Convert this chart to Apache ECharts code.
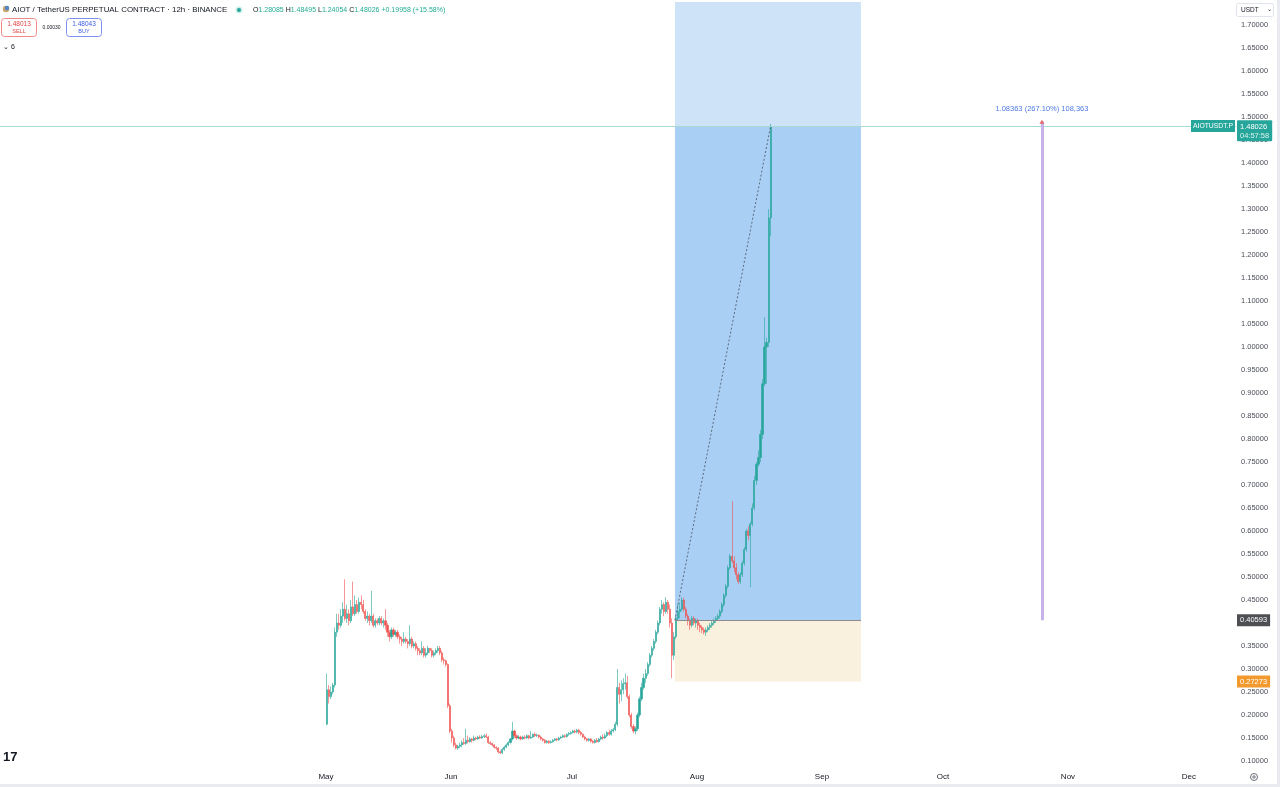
<!DOCTYPE html>
<html><head><meta charset="utf-8">
<script src="https://cdn.jsdelivr.net/npm/echarts@6/dist/echarts.min.js"></script>
<style>html,body{margin:0;padding:0;background:#fff;}#c{width:1280px;height:787px;}</style>
</head><body><div id="c"></div>
<script>
const monthNames = ['Jan','Feb','Mar','Apr','May','Jun','Jul','Aug','Sep','Oct','Nov','Dec'];
const monthTicks = ['2025-05-01','2025-06-01','2025-07-01','2025-08-01','2025-09-01','2025-10-01','2025-11-01','2025-12-01'];

const opens = [
.18,.255,.24,.25,.265,.38,.40,.395,.415,.43,
.41,.42,.405,.435,.42,.44,.425,.445,.44,.425,
.41,.415,.405,.415,.395,.405,.40,.41,.40,.405,
.395,.38,.37,.385,.375,.38,.37,.365,.36,.365,
.36,.355,.365,.35,.355,.345,.34,.335,.345,.33,
.335,.345,.34,.33,.335,.34,.345,.335,.32,.318,
.31,.22,.165,.15,.135,.128,.132,.135,.14,.138,
.145,.142,.148,.145,.15,.148,.152,.15,.153,.155,
.152,.14,.138,.135,.13,.128,.12,.118,.125,.13,
.135,.14,.148,.165,.155,.15,.152,.148,.152,.15,
.155,.15,.152,.158,.155,.156,.152,.148,.145,.14,
.143,.14,.142,.145,.148,.146,.15,.152,.155,.153,
.158,.16,.162,.165,.163,.167,.162,.158,.152,.148,
.145,.148,.143,.14,.145,.142,.148,.152,.15,.155,
.162,.158,.165,.168,.18,.26,.245,.255,.268,.27,
.24,.2,.175,.165,.17,.2,.235,.26,.28,.29,
.31,.33,.345,.36,.38,.4,.43,.44,.425,.445,
.43,.40,.33,.37,.41,.425,.43,.45,.43,.415,
.405,.395,.41,.40,.405,.395,.39,.385,.38,.385,
.39,.395,.40,.405,.41,.415,.425,.44,.46,.48,
.52,.545,.535,.52,.505,.49,.505,.53,.56,.60,
.59,.615,.65,.71,.745,.76,.81,.92,1.0,1.01,
1.28085];
const closes = [
.255,.24,.25,.265,.38,.40,.395,.415,.43,.41,
.42,.405,.435,.42,.44,.425,.445,.44,.425,.41,
.415,.405,.415,.395,.405,.40,.41,.40,.405,.395,
.38,.37,.385,.375,.38,.37,.365,.36,.365,.36,
.355,.365,.35,.355,.345,.34,.335,.345,.33,.335,
.345,.34,.33,.335,.34,.345,.335,.32,.318,.31,
.22,.165,.15,.135,.128,.132,.135,.14,.138,.145,
.142,.148,.145,.15,.148,.152,.15,.153,.155,.152,
.14,.138,.135,.13,.128,.12,.118,.125,.13,.135,
.14,.148,.165,.155,.15,.152,.148,.152,.15,.155,
.15,.152,.158,.155,.156,.152,.148,.145,.14,.143,
.14,.142,.145,.148,.146,.15,.152,.155,.153,.158,
.16,.162,.165,.163,.167,.162,.158,.152,.148,.145,
.148,.143,.14,.145,.142,.148,.152,.15,.155,.162,
.158,.165,.168,.18,.26,.245,.255,.268,.27,.24,
.2,.175,.165,.17,.2,.235,.26,.28,.29,.31,
.33,.345,.36,.38,.4,.43,.44,.425,.445,.43,
.40,.33,.37,.41,.425,.43,.45,.43,.415,.405,
.395,.41,.40,.405,.395,.39,.385,.38,.385,.39,
.395,.40,.405,.41,.415,.425,.44,.46,.48,.52,
.545,.535,.52,.505,.49,.505,.53,.56,.60,.59,
.615,.65,.71,.745,.76,.81,.92,1.0,1.01,1.28085,
1.48026];
const highs = [
.29,.265,.262,.27,.39,.42,.42,.43,.445,.495,
.44,.43,.45,.49,.46,.45,.455,.46,.45,.43,
.425,.42,.47,.42,.41,.41,.415,.415,.41,.43,
.40,.385,.39,.39,.385,.385,.375,.37,.38,.37,
.365,.395,.37,.36,.36,.35,.345,.36,.35,.345,
.35,.345,.345,.34,.345,.35,.35,.34,.325,.32,
.312,.225,.17,.155,.14,.135,.14,.145,.15,.17,
.155,.152,.15,.155,.153,.155,.156,.157,.158,.16,
.155,.143,.14,.137,.132,.13,.123,.128,.133,.138,
.143,.15,.185,.168,.158,.156,.155,.155,.156,.158,
.157,.165,.16,.162,.16,.158,.155,.15,.148,.146,
.145,.145,.148,.15,.15,.153,.155,.158,.158,.16,
.163,.165,.168,.168,.17,.17,.165,.16,.155,.15,
.15,.15,.146,.148,.15,.15,.155,.158,.16,.165,
.168,.17,.172,.185,.30,.27,.275,.28,.29,.285,
.245,.205,.18,.175,.205,.24,.27,.29,.30,.315,
.335,.35,.365,.385,.405,.435,.45,.445,.456,.45,
.44,.41,.38,.415,.44,.445,.456,.455,.435,.42,
.41,.415,.415,.41,.41,.40,.395,.39,.39,.395,
.40,.405,.41,.415,.42,.43,.445,.465,.485,.525,
.55,.665,.545,.53,.51,.51,.535,.565,.605,.61,
.62,.66,.72,.75,.775,.82,.93,1.065,1.02,1.30,
1.48495];
const lows = [
.178,.225,.235,.245,.26,.37,.385,.39,.40,.405,
.40,.395,.40,.415,.415,.42,.42,.43,.42,.405,
.40,.395,.40,.39,.39,.395,.395,.395,.39,.385,
.37,.36,.365,.37,.37,.365,.355,.35,.355,.355,
.345,.35,.345,.345,.34,.33,.33,.33,.325,.325,
.33,.335,.325,.325,.33,.335,.33,.315,.31,.305,
.215,.16,.14,.13,.125,.124,.128,.13,.135,.135,
.138,.14,.14,.143,.145,.146,.148,.148,.15,.15,
.137,.135,.132,.127,.124,.116,.115,.115,.122,.128,
.132,.138,.145,.15,.146,.147,.145,.146,.147,.148,
.147,.148,.15,.152,.152,.149,.145,.142,.138,.138,
.137,.138,.14,.143,.143,.144,.148,.15,.15,.151,
.155,.157,.16,.16,.16,.158,.155,.15,.145,.142,
.142,.14,.138,.138,.14,.14,.145,.146,.148,.152,
.155,.155,.162,.165,.175,.225,.23,.245,.255,.235,
.195,.17,.16,.158,.165,.195,.23,.255,.27,.285,
.305,.325,.34,.355,.375,.395,.42,.415,.42,.42,
.39,.28,.32,.365,.405,.41,.425,.425,.41,.395,
.385,.39,.395,.39,.385,.38,.378,.375,.372,.38,
.385,.39,.395,.40,.405,.41,.42,.435,.455,.475,
.515,.53,.51,.495,.485,.485,.50,.525,.555,.58,
.478,.61,.645,.70,.74,.75,.80,.915,.92,1.0,
1.24054];

// levels of the drawing tools
const currentPrice = 1.48026;
const entryPrice = 0.40593;
const stopPrice = 0.27273;
const measureDelta = 1.08363;
const measureTop = entryPrice + measureDelta;

// times
const firstCandleTime = Date.UTC(2025, 4, 1, 6);
const candleStep = 12 * 3600 * 1000;
const positionStart = Date.UTC(2025, 6, 26, 13);
const positionEnd = Date.UTC(2025, 8, 10, 16);
const measureTime = Date.UTC(2025, 9, 25, 13);
const axisMinTime = Date.UTC(2025, 1, 9, 4);
const axisMaxTime = Date.UTC(2025, 11, 12, 16);

const UP = '#26a69a', DOWN = '#ef5350';
const FONT = 'Liberation Sans, Arial, sans-serif';

const candleTimes = opens.map((_, i) => firstCandleTime + i * candleStep);
const lastTime = candleTimes[candleTimes.length - 1];
const candleData = opens.map((o, i) => [candleTimes[i], o, closes[i], lows[i], highs[i]]);
const monthValues = monthTicks.map(s => Date.parse(s + 'T00:00:00Z'));

const chart = echarts.init(document.getElementById('c'), null, {renderer: 'canvas'});
chart.setOption({
  animation: false,
  backgroundColor: '#ffffff',
  textStyle: {fontFamily: FONT},
  grid: {left: 0, right: 44, top: 2, bottom: 3, containLabel: false},
  xAxis: {
    type: 'value', min: axisMinTime, max: axisMaxTime,
    axisLine: {show: false}, axisTick: {show: false}, splitLine: {show: false},
    axisLabel: {
      inside: true, margin: 3, customValues: monthValues,
      color: '#131722', fontSize: 8, fontFamily: FONT,
      formatter: v => monthNames[new Date(v).getUTCMonth()]
    }
  },
  yAxis: {
    type: 'value', position: 'right', min: 0.05, max: 1.75, interval: 0.05,
    axisLine: {show: false}, axisTick: {show: false}, splitLine: {show: false},
    axisLabel: {
      margin: 5, color: '#4a4e59', fontSize: 7.5, fontFamily: FONT,
      formatter: v => (v < 0.07 || v > 1.72) ? '' : v.toFixed(5)
    }
  },
  series: [{
    type: 'candlestick',
    data: candleData,
    encode: {x: 0, y: [1, 2, 3, 4]},
    barWidth: 1.6,
    itemStyle: {color: UP, color0: DOWN, borderColor: UP, borderColor0: DOWN, borderColorDoji: UP, borderWidth: 0.6},
    markArea: {
      silent: true,
      data: [
        [{xAxis: positionStart, yAxis: currentPrice, itemStyle: {color: '#cfe3f8'}}, {xAxis: positionEnd, yAxis: 1.75}],
        [{xAxis: positionStart, yAxis: entryPrice, itemStyle: {color: '#a9cff4'}}, {xAxis: positionEnd, yAxis: currentPrice}],
        [{xAxis: positionStart, yAxis: stopPrice, itemStyle: {color: '#faf0de'}}, {xAxis: positionEnd, yAxis: entryPrice}]
      ]
    },
    markLine: {
      silent: true, symbol: ['none', 'none'],
      data: [
        {yAxis: currentPrice, lineStyle: {color: '#a6dbd2', width: 1, type: 'solid'},
         label: {show: true, position: 'end', distance: 1, offset: [0, 4.5], formatter: '{a|1.48026}\n{b|04:57:58}',
           backgroundColor: '#26a69a', padding: [2, 3, 1, 3], borderRadius: 1,
           rich: {a: {color: '#fff', fontSize: 7.5, fontFamily: FONT, lineHeight: 9},
                  b: {color: '#d8f2ee', fontSize: 7.5, fontFamily: FONT, lineHeight: 9}}}},
        [{coord: [positionStart, entryPrice], lineStyle: {color: '#8c8c8c', width: 1, type: 'solid'}, label: {show: false}},
         {coord: [positionEnd, entryPrice]}],
        [{coord: [positionStart, entryPrice], lineStyle: {color: '#5b6b7c', width: 1, type: [2, 2]}, label: {show: false}},
         {coord: [lastTime, currentPrice]}],
        [{coord: [measureTime, entryPrice], lineStyle: {color: '#c4b2e8', width: 3, type: 'solid'},
          label: {show: true, position: 'end', distance: 9, formatter: '1.08363 (267.10%) 108,363',
            color: '#4f7be0', fontSize: 7.5, fontFamily: FONT}},
         {coord: [measureTime, measureTop]}]
      ]
    },
    markPoint: {
      silent: true,
      data: [
        {coord: [axisMaxTime, currentPrice], symbol: 'rect', symbolSize: 0,
         label: {show: true, position: 'left', distance: 1, formatter: 'AIOTUSDT.P', color: '#fff',
           backgroundColor: '#26a69a', padding: [3, 2, 2, 2], fontSize: 6.8, fontFamily: FONT}},
        {coord: [axisMaxTime, entryPrice], symbol: 'rect', symbolSize: 0,
         label: {show: true, position: 'right', distance: 1, formatter: '0.40593', color: '#fff',
           backgroundColor: '#4e4f52', padding: [2, 3, 2, 3], fontSize: 7.5, fontFamily: FONT}},
        {coord: [axisMaxTime, stopPrice], symbol: 'rect', symbolSize: 0,
         label: {show: true, position: 'right', distance: 1, formatter: '0.27273', color: '#fff',
           backgroundColor: '#f29a2e', padding: [2, 3, 2, 3], fontSize: 7.5, fontFamily: FONT}},
        {coord: [measureTime, measureTop], symbol: 'triangle', symbolSize: [5, 4],
         itemStyle: {color: '#e06b6b'}, label: {show: false}}
      ]
    }
  }],
  graphic: [
    {type: 'circle', shape: {cx: 6, cy: 9, r: 3.2}, style: {fill: '#c9a36b'}},
    {type: 'circle', shape: {cx: 7, cy: 8, r: 2.2}, style: {fill: '#4f86c6'}},
    {type: 'text', style: {x: 12, y: 10, text: 'AIOT / TetherUS PERPETUAL CONTRACT · 12h · BINANCE',
      fontSize: 7.9, fontFamily: FONT, fill: '#131722', verticalAlign: 'middle'}},
    {type: 'circle', shape: {cx: 239, cy: 10, r: 3.5}, style: {fill: '#cdeee8'}},
    {type: 'circle', shape: {cx: 239, cy: 10, r: 2}, style: {fill: '#26a69a'}},
    {type: 'text', style: {x: 253, y: 10, verticalAlign: 'middle', fontSize: 7, fontFamily: FONT,
      text: '{l|O}{v|1.28085} {l|H}{v|1.48495} {l|L}{v|1.24054} {l|C}{v|1.48026} {v|+0.19958 (+15.58%)}',
      rich: {l: {fill: '#131722', fontSize: 7, fontFamily: FONT}, v: {fill: '#22ab94', fontSize: 7, fontFamily: FONT}}}},
    {type: 'rect', shape: {x: 1.5, y: 18.5, width: 35, height: 18, r: 3}, style: {fill: '#fff', stroke: '#f08a8a', lineWidth: 1}},
    {type: 'text', style: {x: 19, y: 24, text: '1.48013', align: 'center', verticalAlign: 'middle', fontSize: 6.5, fontFamily: FONT, fill: '#e04646'}},
    {type: 'text', style: {x: 19, y: 31.5, text: 'SELL', align: 'center', verticalAlign: 'middle', fontSize: 5.5, fontFamily: FONT, fill: '#e04646'}},
    {type: 'text', style: {x: 51.5, y: 28, text: '0.00030', align: 'center', verticalAlign: 'middle', fontSize: 5, fontFamily: FONT, fill: '#131722'}},
    {type: 'rect', shape: {x: 66.5, y: 18.5, width: 35, height: 18, r: 3}, style: {fill: '#fff', stroke: '#7f8ff0', lineWidth: 1}},
    {type: 'text', style: {x: 84, y: 24, text: '1.48043', align: 'center', verticalAlign: 'middle', fontSize: 6.5, fontFamily: FONT, fill: '#3d5ae0'}},
    {type: 'text', style: {x: 84, y: 31.5, text: 'BUY', align: 'center', verticalAlign: 'middle', fontSize: 5.5, fontFamily: FONT, fill: '#3d5ae0'}},
    {type: 'text', style: {x: 3, y: 47, text: '⌄ 6', verticalAlign: 'middle', fontSize: 7, fontFamily: FONT, fill: '#131722'}},
    {type: 'rect', shape: {x: 1236.5, y: 3.5, width: 37, height: 13, r: 2}, style: {fill: 'none', stroke: '#e0e3eb', lineWidth: 1}},
    {type: 'text', style: {x: 1241, y: 10, text: 'USDT', verticalAlign: 'middle', fontSize: 6.5, fontFamily: FONT, fill: '#131722'}},
    {type: 'text', style: {x: 1267, y: 9, text: '⌄', verticalAlign: 'middle', fontSize: 6, fontFamily: FONT, fill: '#131722'}},
    {type: 'text', style: {x: 3, y: 757, text: '17', verticalAlign: 'middle', fontSize: 13, fontWeight: 'bold', fontFamily: FONT, fill: '#131722'}},
    {type: 'circle', shape: {cx: 1254, cy: 777, r: 3.5}, style: {fill: 'none', stroke: '#6a6d78', lineWidth: 1}},
    {type: 'circle', shape: {cx: 1254, cy: 777, r: 1.2}, style: {fill: 'none', stroke: '#6a6d78', lineWidth: 1}},
    {type: 'rect', shape: {x: 0, y: 784, width: 1280, height: 3}, style: {fill: '#e9ebf0'}},
    {type: 'rect', shape: {x: 1277, y: 0, width: 3, height: 787}, style: {fill: '#e9ebf0'}}
  ]
});
</script></body></html>
